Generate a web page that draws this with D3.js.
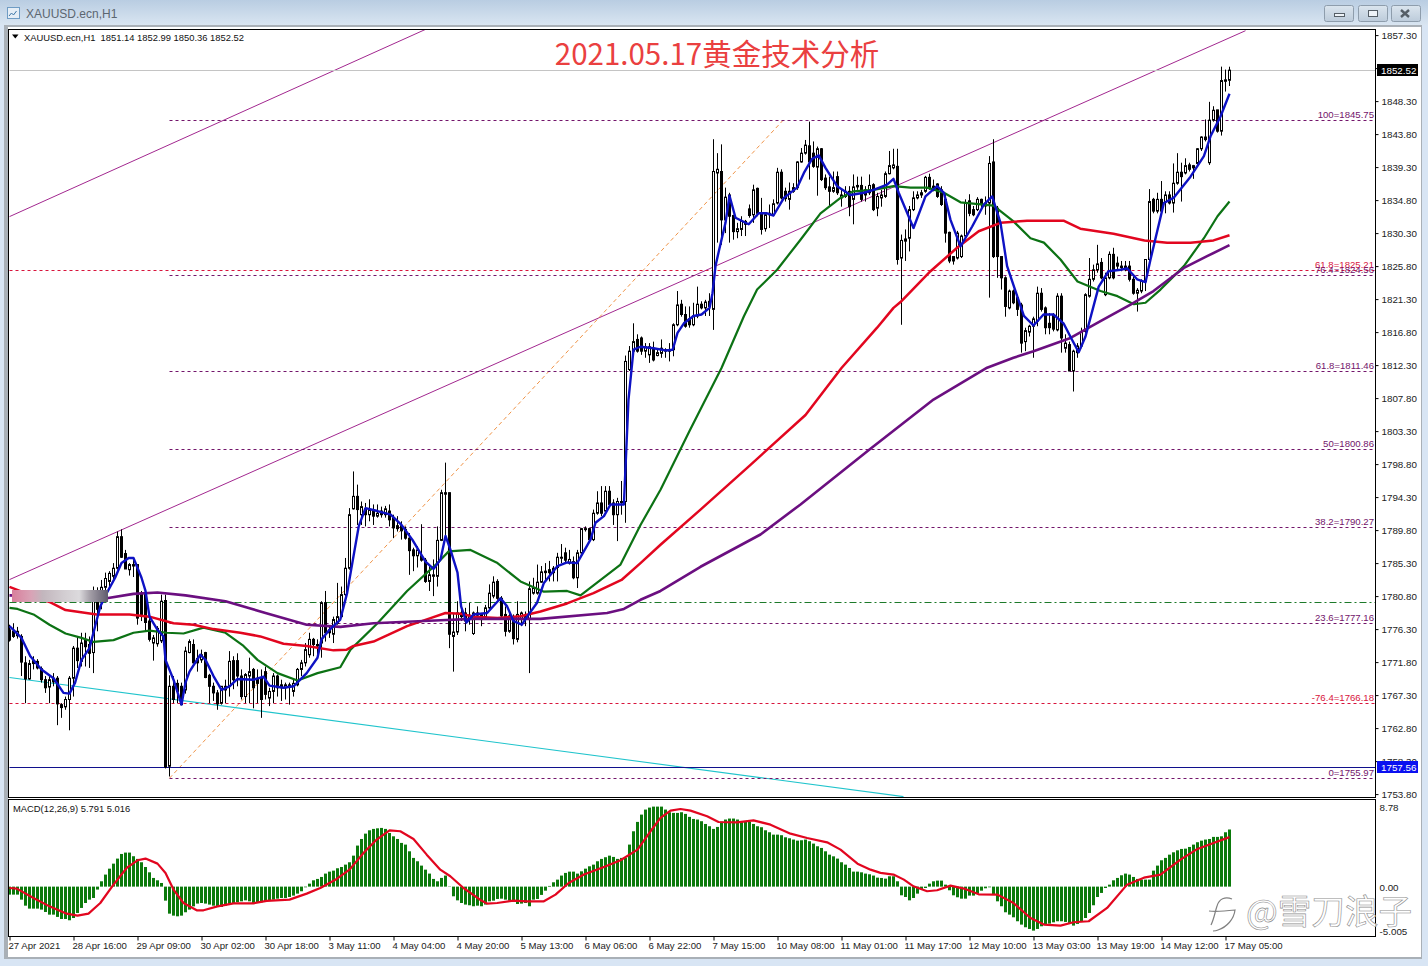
<!DOCTYPE html>
<html>
<head>
<meta charset="utf-8">
<title>XAUUSD.ecn,H1</title>
<script src="https://cdn.jsdelivr.net/npm/d3@7"></script>
<style>
  html, body { margin: 0; padding: 0; background: #d8e5f4; overflow: hidden; }
  text { font-family: "Liberation Sans", Arial, sans-serif; }
</style>
</head>
<body>
<div id="graph"></div>
<script>
const width = 1428;
const height = 966;

// hourly candles, one per bar: open, high, low, close
const candles = [
  [1776.2,1776.9,1774.6,1774.8],[1776.0,1777.1,1775.1,1775.3],[1775.4,1776.6,1775.0,1776.0],[1775.3,1775.6,1769.9,1771.8],
  [1771.7,1772.6,1766.2,1769.5],[1769.5,1772.1,1769.4,1771.6],[1772.0,1772.6,1770.8,1771.6],[1771.9,1772.2,1770.8,1771.0],
  [1770.9,1771.2,1769.0,1769.4],[1769.4,1769.9,1767.6,1768.3],[1768.4,1769.9,1766.2,1769.4],[1769.6,1770.3,1768.5,1769.1],
  [1769.6,1769.9,1763.2,1766.1],[1766.0,1766.2,1764.2,1765.6],[1765.7,1767.1,1765.3,1766.7],[1766.7,1769.9,1762.5,1769.6],
  [1769.6,1774.0,1767.1,1773.7],[1773.7,1775.3,1771.0,1772.0],[1771.9,1775.8,1771.2,1774.4],[1774.9,1775.8,1771.2,1773.9],
  [1774.2,1775.3,1771.0,1773.0],[1773.1,1782.1,1770.3,1780.1],[1780.0,1782.0,1776.0,1779.0],[1781.0,1783.0,1779.0,1782.0],
  [1782.0,1784.0,1781.0,1783.2],[1782.8,1784.2,1782.0,1783.9],[1783.5,1785.3,1783.0,1784.6],[1784.6,1789.6,1784.4,1788.9],
  [1788.9,1789.9,1786.0,1786.1],[1786.6,1787.1,1784.5,1784.5],[1784.4,1785.3,1783.6,1785.1],[1785.1,1786.0,1783.4,1784.9],
  [1785.1,1785.1,1776.9,1777.8],[1781.2,1781.5,1777.4,1778.3],[1781.2,1781.5,1776.0,1777.2],[1777.4,1778.0,1774.6,1774.9],
  [1774.4,1775.5,1772.0,1775.1],[1774.3,1776.7,1773.9,1776.4],[1774.7,1781.0,1774.4,1780.1],[1780.2,1781.0,1757.3,1757.5],
  [1757.6,1770.0,1756.2,1768.5],[1768.5,1769.9,1766.2,1766.7],[1768.9,1769.4,1766.2,1767.8],[1768.5,1769.0,1766.0,1766.0],
  [1768.0,1773.9,1767.5,1773.3],[1773.1,1774.9,1773.0,1774.6],[1774.2,1774.9,1771.6,1771.7],[1772.3,1773.5,1770.5,1771.7],
  [1772.1,1773.5,1771.7,1772.8],[1773.1,1773.2,1769.6,1769.7],[1770.0,1770.2,1766.2,1768.5],[1768.5,1769.0,1766.5,1767.6],
  [1767.6,1768.0,1765.3,1766.1],[1766.2,1768.5,1766.0,1768.5],[1768.0,1769.4,1766.2,1768.5],[1768.5,1773.3,1767.1,1771.9],
  [1772.0,1772.6,1768.1,1769.4],[1772.0,1773.0,1768.5,1769.9],[1769.9,1770.8,1766.7,1767.1],[1767.1,1770.3,1766.2,1770.1],
  [1769.9,1772.4,1766.2,1770.5],[1770.8,1771.0,1765.5,1768.3],[1769.6,1770.8,1766.2,1768.9],[1769.6,1770.8,1764.2,1766.7],
  [1770.5,1771.2,1766.7,1767.4],[1766.9,1768.3,1765.8,1767.8],[1767.8,1770.3,1766.2,1769.9],[1769.9,1770.1,1767.1,1768.3],
  [1768.7,1769.4,1766.5,1768.3],[1768.3,1769.0,1766.7,1768.7],[1768.7,1769.0,1766.0,1768.5],[1767.8,1769.4,1767.1,1768.9],
  [1768.7,1771.0,1768.5,1770.8],[1770.8,1772.1,1769.9,1771.7],[1771.7,1774.4,1771.2,1773.5],[1772.8,1775.8,1772.4,1774.9],
  [1774.9,1775.1,1772.6,1774.2],[1774.2,1774.9,1772.4,1774.0],[1774.4,1780.1,1772.4,1779.9],[1779.9,1781.5,1774.6,1775.8],
  [1776.2,1776.7,1775.1,1775.8],[1775.6,1778.0,1774.4,1777.6],[1777.1,1782.6,1776.9,1778.0],[1778.0,1782.1,1777.8,1781.0],
  [1781.0,1786.0,1780.8,1784.6],[1784.6,1792.8,1784.4,1791.9],[1792.7,1797.8,1792.6,1794.4],[1794.4,1796.0,1790.5,1792.6],
  [1791.9,1793.7,1790.5,1793.0],[1792.7,1793.5,1790.3,1791.9],[1791.9,1794.0,1791.0,1792.6],[1792.4,1793.3,1790.5,1791.7],
  [1791.7,1793.3,1791.5,1792.1],[1792.4,1793.0,1791.5,1791.9],[1791.9,1793.1,1791.5,1792.7],[1792.4,1793.3,1790.3,1791.2],
  [1791.5,1791.9,1788.7,1790.1],[1790.4,1791.7,1789.6,1790.0],[1790.4,1791.0,1788.5,1789.7],[1789.9,1790.3,1788.5,1788.7],
  [1788.7,1789.4,1783.7,1787.0],[1787.1,1787.4,1784.2,1786.3],[1786.3,1787.6,1784.7,1787.1],[1786.3,1790.6,1785.5,1785.7],
  [1785.7,1786.0,1782.6,1782.8],[1782.8,1784.9,1781.5,1783.7],[1783.5,1785.8,1780.8,1783.7],[1783.5,1790.3,1782.1,1788.4],
  [1788.4,1795.3,1788.3,1794.9],[1794.9,1799.0,1788.5,1794.7],[1794.9,1794.9,1773.7,1775.6],[1775.3,1778.5,1770.5,1775.9],
  [1775.9,1780.1,1775.5,1778.5],[1778.5,1779.4,1777.4,1778.0],[1778.5,1779.2,1776.0,1777.4],[1777.7,1779.9,1776.9,1778.2],
  [1775.7,1778.7,1775.5,1778.5],[1778.2,1779.4,1777.8,1778.5],[1778.3,1778.5,1776.7,1777.6],[1778.0,1779.6,1777.8,1779.2],
  [1779.2,1782.4,1779.0,1781.2],[1780.8,1783.5,1780.5,1782.7],[1782.8,1783.1,1780.3,1780.5],[1780.5,1780.8,1777.8,1778.1],
  [1778.3,1779.4,1775.3,1776.0],[1776.0,1778.5,1775.8,1778.1],[1777.6,1778.3,1774.2,1775.0],[1774.9,1780.1,1774.5,1778.3],
  [1777.6,1778.7,1776.7,1778.5],[1778.0,1778.7,1776.7,1777.8],[1777.6,1782.8,1770.3,1781.8],[1781.2,1783.3,1781.0,1781.9],
  [1781.2,1785.1,1781.0,1782.7],[1782.7,1784.9,1782.6,1784.1],[1784.2,1785.3,1782.8,1784.0],[1784.4,1785.6,1782.8,1784.0],
  [1784.6,1784.9,1782.8,1784.0],[1784.7,1786.7,1782.8,1786.1],[1786.0,1787.9,1785.3,1786.1],[1786.7,1787.4,1785.3,1785.7],
  [1785.3,1787.1,1785.1,1785.8],[1785.5,1786.2,1783.1,1783.3],[1783.3,1787.1,1781.9,1786.7],[1786.7,1790.1,1786.5,1790.0],
  [1789.9,1790.3,1789.6,1790.0],[1790.0,1790.1,1788.3,1788.5],[1788.5,1792.6,1788.3,1792.1],[1792.1,1795.1,1791.9,1793.5],
  [1793.5,1795.8,1791.7,1792.1],[1792.4,1795.8,1792.1,1795.1],[1795.1,1795.8,1793.0,1793.3],[1793.5,1794.0,1790.5,1791.9],
  [1791.9,1794.2,1788.3,1793.7],[1793.7,1796.5,1791.9,1793.6],[1793.7,1813.6,1790.8,1812.8],[1811.7,1814.9,1811.5,1814.2],
  [1814.2,1818.0,1813.5,1815.5],[1815.8,1816.5,1814.0,1814.2],[1816.0,1816.2,1813.7,1814.2],[1814.2,1815.3,1813.3,1814.8],
  [1813.7,1815.3,1812.6,1814.8],[1814.6,1815.5,1812.8,1813.0],[1813.6,1814.6,1813.5,1814.0],[1813.9,1815.8,1813.3,1814.6],
  [1814.2,1814.6,1813.3,1814.4],[1814.4,1815.3,1812.8,1814.2],[1814.4,1818.0,1813.5,1817.8],[1817.8,1822.4,1817.6,1820.5],
  [1820.6,1821.2,1818.9,1819.2],[1819.2,1820.3,1817.4,1817.6],[1818.6,1820.3,1817.4,1817.8],[1817.8,1820.8,1817.6,1819.0],
  [1819.0,1823.0,1818.7,1820.6],[1820.6,1821.0,1819.9,1820.1],[1820.1,1821.2,1819.0,1820.9],[1821.0,1822.1,1819.0,1820.3],
  [1819.9,1843.1,1817.1,1838.7],[1838.5,1841.2,1829.0,1839.0],[1838.7,1842.4,1828.7,1832.1],[1832.1,1836.5,1830.3,1835.2],
  [1835.5,1835.8,1829.0,1832.6],[1832.7,1832.8,1829.4,1830.5],[1830.5,1831.7,1829.6,1830.9],[1830.8,1832.6,1829.9,1831.9],
  [1831.9,1832.1,1829.9,1831.5],[1833.6,1834.2,1832.4,1832.7],[1832.8,1836.9,1831.7,1836.2],[1836.4,1836.5,1832.6,1833.0],
  [1833.0,1835.1,1830.1,1830.8],[1830.9,1833.0,1830.5,1832.8],[1833.0,1834.2,1831.0,1832.8],[1832.8,1834.9,1832.6,1834.3],
  [1834.4,1839.2,1834.2,1838.6],[1838.6,1839.0,1834.9,1835.1],[1836.0,1836.5,1834.6,1835.0],[1834.9,1837.2,1833.5,1836.0],
  [1836.0,1837.1,1835.8,1836.5],[1836.5,1840.1,1836.2,1840.0],[1840.0,1841.9,1839.9,1841.2],[1841.2,1843.0,1841.0,1842.3],
  [1842.2,1845.5,1837.6,1840.0],[1841.2,1842.8,1839.2,1839.4],[1839.3,1842.1,1835.4,1841.8],[1841.8,1841.9,1837.4,1837.6],
  [1837.8,1838.3,1836.2,1836.5],[1836.6,1838.0,1833.9,1836.0],[1836.0,1838.7,1835.8,1836.5],[1838.0,1838.7,1835.5,1835.8],
  [1835.1,1836.2,1833.9,1835.5],[1835.3,1836.7,1835.1,1836.0],[1836.0,1836.7,1832.6,1833.9],[1834.9,1838.3,1831.5,1836.6],
  [1836.6,1838.0,1836.2,1836.8],[1836.8,1838.0,1834.6,1834.9],[1836.2,1836.7,1834.6,1835.5],[1835.8,1838.3,1835.5,1836.8],
  [1836.9,1837.1,1833.3,1833.5],[1833.7,1835.8,1832.6,1835.3],[1835.1,1836.2,1833.9,1835.5],[1835.3,1838.7,1835.1,1838.4],
  [1838.4,1841.5,1838.3,1839.5],[1839.2,1841.8,1839.0,1839.6],[1839.4,1841.8,1826.0,1826.7],[1826.9,1830.1,1817.8,1829.3],
  [1829.2,1830.8,1826.5,1829.5],[1829.6,1834.0,1827.8,1833.5],[1833.5,1836.0,1833.3,1835.1],[1835.1,1836.0,1834.9,1835.5],
  [1835.8,1836.2,1835.1,1835.5],[1836.0,1838.1,1835.8,1837.9],[1837.9,1838.4,1836.2,1836.5],[1836.5,1837.6,1836.0,1836.7],
  [1837.0,1837.1,1835.1,1835.3],[1836.2,1836.7,1834.0,1834.2],[1834.9,1835.6,1829.0,1830.3],[1830.4,1830.5,1826.2,1826.5],
  [1827.1,1827.1,1826.0,1826.5],[1826.9,1830.6,1826.7,1830.3],[1827.1,1830.1,1826.9,1829.9],[1829.9,1834.9,1829.6,1834.4],
  [1834.7,1835.6,1832.6,1833.0],[1833.5,1834.0,1832.6,1832.8],[1833.5,1835.2,1833.3,1834.9],[1834.9,1835.0,1833.5,1834.2],
  [1834.4,1835.3,1832.8,1834.0],[1834.4,1840.8,1821.5,1839.8],[1840.0,1843.1,1826.9,1827.1],[1833.7,1834.0,1824.2,1827.1],
  [1827.1,1827.1,1822.6,1824.2],[1824.2,1824.4,1818.9,1820.3],[1820.1,1822.6,1819.9,1822.4],[1822.4,1822.6,1820.6,1820.8],
  [1821.5,1821.9,1819.0,1819.9],[1820.5,1820.8,1814.0,1815.3],[1815.5,1817.4,1814.2,1817.0],[1816.8,1817.8,1816.2,1817.6],
  [1817.6,1818.9,1813.3,1818.6],[1818.3,1823.0,1817.6,1822.1],[1822.1,1822.8,1819.6,1819.9],[1820.1,1820.3,1816.5,1817.4],
  [1818.0,1819.4,1816.5,1817.4],[1819.2,1819.4,1816.9,1817.2],[1817.1,1822.1,1816.9,1821.7],[1821.7,1822.1,1814.0,1816.0],
  [1814.6,1816.5,1814.0,1815.3],[1815.1,1815.5,1811.5,1811.5],[1811.5,1814.4,1808.7,1814.2],[1814.0,1815.3,1813.3,1814.9],
  [1814.9,1817.4,1814.6,1816.9],[1816.9,1822.1,1816.7,1821.9],[1821.7,1826.9,1821.5,1824.0],[1824.0,1826.0,1823.7,1825.3],
  [1825.3,1828.7,1824.9,1826.1],[1826.3,1826.9,1824.0,1824.2],[1821.9,1824.9,1821.7,1824.2],[1824.2,1827.8,1824.0,1827.4],
  [1827.4,1828.3,1824.0,1824.2],[1826.2,1827.1,1825.3,1825.8],[1825.6,1826.5,1825.1,1825.8],[1825.8,1826.5,1825.1,1825.3],
  [1825.8,1826.5,1823.7,1824.0],[1824.0,1824.4,1821.9,1822.1],[1822.1,1822.8,1819.6,1822.5],[1822.4,1824.0,1822.1,1823.7],
  [1823.7,1826.7,1822.4,1826.7],[1826.7,1836.3,1826.5,1834.6],[1834.9,1835.1,1833.0,1833.3],[1833.3,1835.8,1833.0,1834.9],
  [1834.9,1837.4,1833.0,1833.3],[1834.6,1836.0,1833.0,1835.5],[1835.5,1836.0,1834.2,1834.4],[1834.4,1839.8,1833.1,1837.1],
  [1837.1,1841.2,1836.9,1838.6],[1838.6,1839.9,1834.6,1838.0],[1838.5,1840.5,1838.3,1839.5],[1839.6,1839.9,1838.7,1839.0],
  [1839.2,1839.6,1837.7,1839.5],[1839.8,1841.9,1839.6,1841.8],[1841.8,1843.5,1841.5,1843.4],[1843.4,1845.8,1842.8,1843.05],
  [1839.9,1848.2,1839.6,1845.7],[1845.7,1847.6,1845.5,1847.05],[1847.1,1847.1,1844.0,1844.2],[1844.2,1853.0,1843.6,1851.1],
  [1851.0,1852.6,1849.6,1851.2],[1851.14,1852.99,1850.36,1852.52]
];

// moving averages as [bar, price]
const blueMa = [
  [0,1776.7],[3,1775.1],[5.2,1772.6],[8,1770.8],[11,1769.6],[13.5,1767.6],[15,1767.5],[16.4,1769],[18,1772.1],[20,1773.7],
  [21.5,1776.9],[22.7,1779.4],[24.3,1781.2],[26.4,1783.3],[28,1785.3],[29.8,1786],[31,1786],[33,1783.3],[34,1781.5],[35,1778],
  [37,1776.2],[38.5,1775.3],[39,1772.1],[41,1769.4],[43,1766],[44,1769],[45,1770.5],[47.7,1772.8],[49,1772.1],[51,1769.9],
  [53,1768],[55,1768.5],[57,1769.5],[61,1769.4],[63.5,1769.8],[65,1768.6],[68.5,1768.3],[71,1768.5],[74.3,1770.3],[77,1772.4],
  [78,1774.9],[80,1776.2],[82.7,1777.6],[84.4,1781.2],[85.7,1785.3],[87.3,1790.3],[89,1792.8],[92,1792.4],[95.3,1791.9],[98,1790.5],
  [100.7,1788.5],[104,1785.5],[106,1784.5],[107.75,1785.8],[109,1789],[110.25,1787.1],[112,1784],[112.9,1779.4],[114.25,1777.2],[116,1778.3],
  [119.4,1778.5],[122.75,1780.5],[124.4,1779.4],[126,1777.4],[128.1,1776.9],[129.4,1778],[131.9,1779.9],[133.6,1782.6],[137,1784.9],[139.4,1785.4],
  [141.9,1785.3],[145.25,1788.5],[146.5,1790.8],[148.6,1791.7],[150.25,1793.3],[153.6,1793.3],[154.75,1807.6],[156,1814.4],[157.75,1814.8],[161,1814.6],
  [164,1814.3],[165.8,1814.4],[167,1816.7],[168.6,1818],[171,1819],[173,1819.2],[175,1820.1],[175.75,1822.1],[176.5,1825.8],[177.4,1828],
  [179,1831.7],[180,1835.4],[181.5,1832.4],[184.8,1831.5],[187.3,1833],[189.4,1833],[191,1832.7],[193.6,1835.1],[196.9,1836.5],[198.6,1838.5],
  [200.6,1840.4],[202.3,1840.9],[204,1839.2],[206.9,1836.7],[210.25,1835.5],[213.6,1835.8],[216,1836.2],[219.4,1836.9],[221,1837.7],[222.3,1835.8],
  [226,1831],[229,1835.3],[231.9,1836.7],[233.6,1835.8],[235.25,1832.1],[237.75,1828.5],[240.67,1831.2],[243.6,1834.2],[245.67,1835.3],[247.75,1831.7],
  [249.4,1825.8],[251.5,1822.4],[253.6,1819],[256,1817.7],[258.5,1819.2],[261,1819.2],[263.5,1818],[265.6,1815.8],[267.3,1814.05],[269,1816.2],
  [272.3,1823],[274.75,1825.1],[277.75,1825.3],[279.4,1825.5],[281.9,1824],[284,1823.6],[285.25,1826.7],[288.6,1834.4],[291,1835.1],[295.25,1838],
  [298.6,1840.8],[300.25,1843.5],[302.75,1846.2],[305,1849.3]
];
const greenMa = [
  [0,1779.2],[2,1779.05],[6,1778.3],[10,1776.9],[14,1775.7],[18,1775.1],[21,1774.55],[26,1774.8],[31,1775.8],[35,1776.1],
  [39.3,1775.8],[43.5,1775.7],[48.5,1776.5],[54,1775.8],[58.5,1774],[62,1772.1],[67,1770.3],[72,1769.3],[77,1770.3],[82.7,1771.1],
  [85.25,1773.5],[92,1777.1],[99.4,1781.5],[107,1785.3],[109.8,1786.9],[115.25,1787.1],[122,1785.3],[127.75,1782.8],[133.6,1781.4],[139.4,1781.5],
  [142.75,1780.9],[152.75,1785.1],[157.75,1790.5],[162.75,1795.3],[170,1803.3],[178,1811.9],[183.6,1818.96],[186.9,1822.6],[191.9,1825.3],[197.75,1829.4],
  [202.75,1833],[207.75,1835.1],[211,1836],[216,1836.2],[221,1836.7],[225.25,1836.5],[229.4,1836.5],[233.6,1835.8],[237.75,1834.5],[246,1834.05],
  [251,1831.9],[255.25,1829.6],[258.6,1829],[262.75,1826.7],[267,1823.7],[272.75,1822.4],[277,1821.7],[281.1,1820.6],[284,1820.8],[287.75,1822.6],
  [293.6,1825.8],[298.6,1829.6],[302,1832.6],[305,1834.6]
];
const redMa = [
  [0,1782.05],[5,1781],[10,1780],[14,1778.9],[21.8,1778.3],[30,1778.3],[35,1778],[41,1777.1],[46,1776.9],[51,1776.3],
  [57.7,1775.8],[62.7,1775.3],[68.5,1774.3],[74.3,1774],[81,1773.4],[84.3,1773.5],[86,1774],[91,1774.6],[99.4,1776.7],[105.25,1777.8],
  [109,1778.5],[112.75,1778.4],[116,1778],[122,1777.8],[127.75,1778.05],[132.75,1778.7],[139.4,1779.8],[146,1781.2],[153,1783],[157.75,1785.3],
  [162.75,1787.8],[172.75,1792.6],[185.25,1798.7],[199,1805.5],[208,1811.9],[216.9,1817.4],[221,1820.1],[222.75,1820.9],[230.25,1825.1],[236.9,1828.3],
  [242.3,1830.55],[247.75,1831.7],[254.4,1832],[263.5,1832],[267.7,1830.9],[276,1830.2],[283.75,1829.3],[289.4,1829],[295.25,1829],[301,1829.3],[305,1830]
];
const purpleMa = [
  [0,1780.9],[24.3,1780.5],[31,1781.1],[37,1781.3],[44,1780.9],[54,1780.1],[64,1778.5],[74.3,1776.9],[82.75,1776.6],[91,1777.1],
  [107.75,1777.5],[116,1777.7],[132.75,1777.7],[149.4,1778.5],[153.6,1779.05],[157.75,1780.3],[162.75,1781.5],[172.75,1784.8],[187.75,1789.2],[197.75,1793.3],
  [215,1800.8],[231,1807.6],[244.4,1811.95],[251,1813.3],[256,1814.2],[265.25,1816],[272.75,1818.3],[280.25,1820.55],[286,1822.4],[293.6,1825.55],
  [299.4,1827.15],[305,1828.65]
];

// fibonacci levels: label, price, first bar, colour group
const fibLabels = ["100=1845.75", "61.8=1825.21", "76.4=1824.56", "61.8=1811.46", "50=1800.86", "38.2=1790.27", "23.6=1777.16", "-76.4=1766.18", "0=1755.97"];
const fibPrices = [1845.75, 1825.21, 1824.56, 1811.46, 1800.86, 1790.27, 1777.16, 1766.18, 1755.97];
const fibFromBar = [40, 0, 40, 40, 40, 40, 40, 0, 40];
const fibIsRed = [false, true, false, false, false, false, false, true, false];

// drawn objects as two [bar, price] ends
const channelUpper = [[0, 1832.55], [104.5, 1858.2]];
const channelLower = [[0, 1783.05], [309, 1857.9]];
const cyanTrend = [[0, 1769.7], [223.5, 1753.45]];
const fibDiagonal = [[40, 1755.97], [193.5, 1845.75]];
const greenLevel = 1780.05;
const bidPrice = 1852.52;
const askPrice = 1757.56;

const priceTicks = [1857.3,1852.8,1848.3,1843.8,1839.3,1834.8,1830.3,1825.8,1821.3,1816.8,1812.3,1807.8,1803.3,1798.8,1794.3,1789.8,1785.3,1780.8,1776.3,1771.8,1767.3,1762.8,1758.3,1753.8];
const timeLabels = ["27 Apr 2021","28 Apr 16:00","29 Apr 09:00","30 Apr 02:00","30 Apr 18:00","3 May 11:00","4 May 04:00","4 May 20:00","5 May 13:00","6 May 06:00","6 May 22:00","7 May 15:00","10 May 08:00","11 May 01:00","11 May 17:00","12 May 10:00","13 May 03:00","13 May 19:00","14 May 12:00","17 May 05:00"];

// MACD histogram, one value per bar
const macdHist = [
  -0.81,-0.81,-0.81,-1.32,-1.93,-2.23,-2.23,-2.23,-2.33,-2.57,-2.84,-2.84,-3.07,-3.28,-3.28,-3.41,-3.18,-2.67,-2.16,-1.66,
  -1.32,-1.15,-0.30,0.54,1.22,1.82,2.33,2.84,3.31,3.45,3.45,3.08,2.81,2.47,1.99,1.45,0.88,0.64,0.37,-1.42,
  -2.74,-2.94,-3.01,-2.94,-2.60,-2.33,-2.00,-1.72,-1.66,-1.72,-1.82,-1.93,-2.06,-2.06,-1.93,-1.82,-1.66,-1.59,-1.49,-1.39,
  -1.49,-1.66,-1.66,-1.59,-1.52,-1.42,-1.32,-1.22,-1.15,-1.15,-1.05,-0.91,-0.71,-0.47,-0.07,0.30,0.64,0.78,0.98,1.32,
  1.52,1.62,1.86,1.99,2.23,2.47,3.14,4.16,4.83,5.37,5.71,5.85,5.91,5.95,5.85,5.44,5.10,4.83,4.43,4.26,
  3.58,2.91,2.57,2.13,1.72,1.32,0.78,0.54,0.88,1.12,0.03,-0.98,-1.39,-1.66,-1.82,-1.89,-1.99,-1.93,-1.99,-1.82,
  -1.49,-1.42,-1.25,-1.22,-1.32,-1.42,-1.56,-1.76,-1.72,-1.66,-1.99,-1.32,-1.25,-0.84,-0.41,0.07,0.44,0.71,1.12,1.39,
  1.52,1.52,1.32,1.55,1.82,2.06,2.23,2.57,2.81,2.98,3.14,3.01,2.81,2.91,2.91,4.26,5.61,6.56,7.30,7.81,
  8.01,8.11,8.11,8.11,7.81,7.54,7.47,7.47,7.54,7.37,7.07,6.86,6.80,6.63,6.35,6.12,5.85,6.05,6.59,6.80,
  6.90,6.90,6.80,6.63,6.56,6.56,6.35,6.12,6.02,5.71,5.51,5.27,5.27,5.21,5.00,4.90,4.77,4.66,4.70,4.77,
  4.60,4.36,4.09,3.92,3.58,3.24,3.07,2.84,2.47,2.23,1.89,1.52,1.52,1.45,1.32,1.25,1.12,0.91,0.88,0.81,
  1.05,1.05,0.54,-0.88,-1.05,-1.39,-1.15,-0.71,-0.24,-0.14,0.30,0.54,0.61,0.61,0.20,-0.37,-0.88,-1.08,-1.22,-1.22,
  -0.91,-0.91,-0.71,-0.41,-0.17,-0.07,-0.81,-1.49,-1.99,-2.60,-2.84,-3.11,-3.51,-3.85,-4.12,-4.29,-4.46,-4.29,-4.02,-3.85,
  -3.75,-3.62,-3.51,-3.51,-3.58,-3.68,-3.95,-3.78,-3.58,-3.18,-2.67,-1.89,-1.05,-0.64,-0.14,0.20,0.64,0.88,1.15,1.32,
  1.22,0.98,0.78,0.71,0.71,0.71,1.62,2.13,2.67,2.91,3.24,3.48,3.68,3.82,3.85,4.02,4.26,4.50,4.66,4.77,
  4.83,5.04,5.04,5.10,5.51,5.79
];
// MACD signal, [bar, value]
const macdSignal = [
  [0,-0.14],[1.8,-0.2],[6,-1.15],[10,-2],[14.3,-2.74],[17,-2.94],[19.75,-2.74],[22.7,-1.66],[26,0.2],[29.3,1.89],
  [32,2.67],[34,2.84],[37,2.33],[39,1.39],[41,-0.3],[43.5,-1.66],[46.8,-2.4],[48.5,-2.4],[52,-2],[56,-1.69],
  [61,-1.69],[64.3,-1.45],[70,-1.32],[74.3,-0.71],[77.7,-0.14],[81.8,0.78],[85,1.72],[88.5,3.41],[91.8,4.77],[95,5.71],
  [97.7,5.61],[101,4.83],[104.3,3.24],[107.7,1.72],[110.2,1.05],[113.5,-0.14],[117.7,-1.35],[119.4,-1.72],[121.9,-1.66],[126,-1.42],
  [129.4,-1.49],[133.6,-1.49],[136.5,-0.81],[139.8,0.37],[143.6,1.22],[148.6,1.99],[152.75,2.67],[157,3.75],[160.25,5.61],[162.75,6.96],
  [165.25,7.70],[167.75,7.87],[170.25,7.70],[174.4,7.13],[177.25,6.55],[181.9,6.52],[186,6.72],[190.25,6.28],[195.25,5.37],[199.4,4.93],
  [204.4,4.49],[207.75,3.75],[212,2.33],[215.25,1.72],[217.75,1.39],[221,1.22],[223.6,0.71],[226,0.03],[229.4,-0.47],[231.9,-0.37],
  [235.25,0.1],[238.6,-0.2],[242.3,-0.78],[247,-0.81],[251,-1.66],[255.25,-3.18],[258.6,-3.85],[262.75,-3.95],[266,-3.61],[269.8,-3.51],
  [274.4,-2.16],[279.4,0.2],[283.6,0.91],[287.75,1.22],[292.75,2.74],[297,3.82],[301,4.43],[305,5.016]
];
const macdTicks = [8.78, 0, -5.005];

const svg = d3.select("#graph")
  .append("svg")
  .attr("width", width)
  .attr("height", height)
  .style("display", "block");

const defs = svg.append("defs");

const titleGrad = defs.append("linearGradient").attr("id", "titleGrad").attr("x2", 0).attr("y2", 1);
titleGrad.append("stop").attr("offset", 0).attr("stop-color", "#b9cde2");
titleGrad.append("stop").attr("offset", 1).attr("stop-color", "#d9e5f1");

const btnGrad = defs.append("linearGradient").attr("id", "btnGrad").attr("x2", 0).attr("y2", 1);
btnGrad.append("stop").attr("offset", 0).attr("stop-color", "#dbe5ee");
btnGrad.append("stop").attr("offset", 1).attr("stop-color", "#bccbda");

// the smudged-out patch over the left of the chart
const smudge = defs.append("linearGradient").attr("id", "smudge");
[[0, "#d87f9c"], [0.2, "#d9a3b6"], [0.32, "#c2b6bd"], [0.55, "#d3ced2"], [0.7, "#dcdadd"], [0.82, "#a19ca5"], [1, "#5f5a6c"]]
  .forEach(s => smudge.append("stop").attr("offset", s[0]).attr("stop-color", s[1]));
defs.append("filter").attr("id", "soft").append("feGaussianBlur").attr("stdDeviation", 0.7);

// window chrome
svg.append("rect").attr("width", width).attr("height", height).attr("fill", "#d8e5f4");
svg.append("rect").attr("width", width).attr("height", 25).attr("fill", "url(#titleGrad)");
svg.append("rect").attr("x", 4).attr("y", 25).attr("width", 1418).attr("height", 934).attr("fill", "#a9b0b7");
svg.append("rect").attr("x", 8).attr("y", 27).attr("width", 1413).attr("height", 930).attr("fill", "#fff");

svg.append("rect").attr("x", 7.5).attr("y", 7.5).attr("width", 12).attr("height", 11).attr("fill", "#e6eef6").attr("stroke", "#6f9cc4");
svg.append("path").attr("d", "M9 16l2.5-3 2 2 3-4").attr("fill", "none").attr("stroke", "#3c76a8");
svg.append("text").attr("x", 26).attr("y", 18).attr("font-size", 12).attr("fill", "#5c6670").text("XAUUSD.ecn,H1");

[1324, 1358, 1391].forEach(bx => {
  svg.append("rect").attr("x", bx + 0.5).attr("y", 5.5).attr("width", 29).attr("height", 16).attr("rx", 2)
    .attr("fill", "url(#btnGrad)").attr("stroke", "#8e9dac");
});
svg.append("rect").attr("x", 1334.5).attr("y", 13.5).attr("width", 10).attr("height", 3).attr("fill", "#eef3f8").attr("stroke", "#555e66");
svg.append("rect").attr("x", 1368.5).attr("y", 10.5).attr("width", 9).attr("height", 6).attr("fill", "#eef3f8").attr("stroke", "#555e66");
svg.append("path").attr("d", "M1401 10l8 7M1409 10l-8 7").attr("stroke", "#555e66").attr("stroke-width", 2.4).attr("fill", "none");

// scales
const mainTop = 29, mainBottom = 797, macdTop = 800, macdBottom = 936, paneLeft = 9, paneRight = 1375;
const x = d3.scaleLinear().domain([0, 305]).range([9.5, 1229.5]);
const y = d3.scaleLinear().domain([1857.3, 1753.8]).range([35.1, 794.1]);
const yMacd = d3.scaleLinear().domain([8.78, -5.005]).range([macdTop, macdBottom]);

defs.append("clipPath").attr("id", "mainClip").append("rect")
  .attr("x", paneLeft).attr("y", mainTop + 1).attr("width", paneRight - paneLeft).attr("height", mainBottom - mainTop - 1);
defs.append("clipPath").attr("id", "macdClip").append("rect")
  .attr("x", paneLeft).attr("y", macdTop).attr("width", paneRight - paneLeft).attr("height", macdBottom - macdTop);

const main = svg.append("g").attr("clip-path", "url(#mainClip)");

const priceLine = d3.line().x(d => x(d[0])).y(d => Math.round(y(d[1])) + 0.5);
const straight = d3.line().x(d => x(d[0])).y(d => y(d[1]));

// objects sit behind the candles
main.append("path").attr("d", straight(channelUpper)).attr("fill", "none").attr("stroke", "#a2278f").attr("stroke-width", 1);
main.append("path").attr("d", straight(channelLower)).attr("fill", "none").attr("stroke", "#a2278f").attr("stroke-width", 1);
main.append("path").attr("d", straight(cyanTrend)).attr("fill", "none").attr("stroke", "#20c4cc").attr("stroke-width", 1.1);
main.append("path").attr("d", straight(fibDiagonal)).attr("fill", "none").attr("stroke", "#f09448").attr("stroke-width", 1).attr("stroke-dasharray", "4,3");

main.append("path").attr("d", priceLine([[0, bidPrice], [342, bidPrice]])).attr("fill", "none").attr("stroke", "#c4c4c4");
main.append("path").attr("d", priceLine([[0, askPrice], [342, askPrice]])).attr("fill", "none").attr("stroke", "#10108c");
main.append("path").attr("d", priceLine([[0, greenLevel], [342, greenLevel]])).attr("fill", "none").attr("stroke", "#1d7a2a").attr("stroke-dasharray", "7,3,2,3");

fibPrices.forEach((price, i) => {
  const color = fibIsRed[i] ? "#d8143c" : "#73156b";
  main.append("path").attr("d", priceLine([[fibFromBar[i], price], [342, price]]))
    .attr("fill", "none").attr("stroke", color).attr("stroke-dasharray", "3,3");
  main.append("text").attr("x", paneRight - 1).attr("y", Math.round(y(price)) - 2)
    .attr("text-anchor", "end").attr("font-size", 9.6).attr("fill", color)
    .text(fibLabels[i]);
});

// candles
const candleRows = main.append("g").selectAll("g").data(candles).join("g");
candleRows.append("line")
  .attr("x1", (d, i) => x(i)).attr("x2", (d, i) => x(i))
  .attr("y1", d => y(d[1])).attr("y2", d => y(d[2]))
  .attr("stroke", "#000").attr("stroke-width", 1);
candleRows.append("rect")
  .attr("x", (d, i) => x(i) - 1)
  .attr("width", 2)
  .attr("y", d => y(Math.max(d[0], d[3])))
  .attr("height", d => Math.max(1, Math.abs(y(d[0]) - y(d[3]))))
  .attr("fill", d => d[3] >= d[0] ? "#fff" : "#000")
  .attr("stroke", "#000").attr("stroke-width", 1);

// moving averages on top, straight between the points read
[[greenMa, "#0c7214", 2.2], [redMa, "#e2061f", 2.5], [purpleMa, "#6b0f80", 2.6], [blueMa, "#0e12c4", 2.4]].forEach(s => {
  main.append("path").attr("d", straight(s[0])).attr("fill", "none").attr("stroke", s[1]).attr("stroke-width", s[2])
    .attr("stroke-linejoin", "round");
});

// smudge sits over the lines
main.append("rect").attr("x", 12).attr("y", 590).attr("width", 96).attr("height", 12)
  .attr("fill", "url(#smudge)").attr("filter", "url(#soft)");

// header text
main.append("path").attr("d", "M12 34.5h6.5l-3.25 4z").attr("fill", "#000");
main.append("text").attr("x", 24).attr("y", 41).attr("font-size", 9.4).attr("fill", "#111")
  .attr("xml:space", "preserve").text("XAUUSD.ecn,H1  1851.14 1852.99 1850.36 1852.52");
main.append("text").attr("x", 717).attr("y", 65).attr("text-anchor", "middle")
  .style("font-family", "'Noto Sans CJK SC', sans-serif").attr("font-size", 29.5).attr("fill", "#ea4040")
  .text("2021.05.17黄金技术分析");

// price axis
const priceAxis = svg.append("g").attr("transform", `translate(${paneRight + 0.5},0)`)
  .call(d3.axisRight(y).tickValues(priceTicks).tickFormat(d3.format(".2f")).tickSize(3).tickPadding(3));
priceAxis.select(".domain").attr("d", `M0,${mainTop}V${mainBottom}`).attr("stroke", "#000");
priceAxis.selectAll("text").attr("font-size", 9.8).attr("fill", "#222").style("font-family", "'Liberation Sans', sans-serif");

function priceTag(price, bg) {
  svg.append("rect").attr("x", 1377).attr("y", Math.round(y(price)) - 6).attr("width", 41).attr("height", 12).attr("fill", bg);
  svg.append("text").attr("x", 1381).attr("y", Math.round(y(price)) + 4).attr("font-size", 9.8).attr("fill", "#fff").text(price.toFixed(2));
}
priceTag(bidPrice, "#000");
priceTag(askPrice, "#0a10f0");

// MACD pane
const macdPane = svg.append("g").attr("clip-path", "url(#macdClip)");
macdPane.selectAll("rect").data(macdHist).join("rect")
  .attr("x", (d, i) => x(i) - 1.5)
  .attr("width", 3)
  .attr("y", d => Math.min(yMacd(d), yMacd(0)))
  .attr("height", d => Math.abs(yMacd(d) - yMacd(0)))
  .attr("fill", "#0b7a0b");
macdPane.append("path").attr("d", d3.line().x(d => x(d[0])).y(d => yMacd(d[1]))(macdSignal))
  .attr("fill", "none").attr("stroke", "#e2061f").attr("stroke-width", 2.2).attr("stroke-linejoin", "round");
macdPane.append("text").attr("x", 13).attr("y", 812).attr("font-size", 9.4).attr("fill", "#111").text("MACD(12,26,9) 5.791 5.016");

// pane frames
svg.append("rect").attr("x", 8.5).attr("y", mainTop + 0.5).attr("width", paneRight - 8).attr("height", mainBottom - mainTop)
  .attr("fill", "none").attr("stroke", "#000");
svg.append("rect").attr("x", 8.5).attr("y", 799.5).attr("width", paneRight - 8).attr("height", 137)
  .attr("fill", "none").attr("stroke", "#000");

// watermark, embossed grey outline
const mark = svg.append("g");
mark.append("path").attr("d", "M1232 899c-7-3-13 0-15 7-2 6-3 13-6 19M1209 911c8 1 17 0 26-1-1 9-8 17-17 20-2 1-3 1-5 1")
  .attr("fill", "none").attr("stroke", "#808080").attr("stroke-width", 1.2);
mark.append("text").attr("x", 1246).attr("y", 924)
  .style("font-family", "'Noto Sans CJK SC', sans-serif").attr("font-size", 33.6)
  .attr("fill", "#fff").attr("fill-opacity", 0.8).attr("stroke", "#8c8c8c").attr("stroke-width", 0.6)
  .text("@雪刀浪子");

// MACD axis, labels nudged inside the pane the way the terminal draws them
const macdAxis = svg.append("g").attr("transform", `translate(${paneRight + 0.5},0)`)
  .call(d3.axisRight(yMacd).tickValues(macdTicks).tickFormat(d => d === -5.005 ? "-5.005" : d3.format(".2f")(d)).tickSize(0).tickPadding(4));
macdAxis.select(".domain").remove();
macdAxis.selectAll("text").attr("font-size", 9.8).attr("fill", "#222").style("font-family", "'Liberation Sans', sans-serif")
  .attr("dy", d => d === 8.78 ? "10" : d === -5.005 ? "-2" : "4");

// time axis
const bottomTicks = timeLabels.map((d, i) => i * 16);
const timeAxis = svg.append("g").attr("transform", "translate(0,936.5)")
  .call(d3.axisBottom(x).tickValues(bottomTicks).tickFormat((d, i) => timeLabels[i]).tickSize(4).tickPadding(2));
timeAxis.select(".domain").remove();
timeAxis.selectAll("text").attr("text-anchor", "start").attr("font-size", 9.6).attr("fill", "#222")
  .style("font-family", "'Liberation Sans', sans-serif").attr("x", -1.5);
</script>
</body>
</html>
